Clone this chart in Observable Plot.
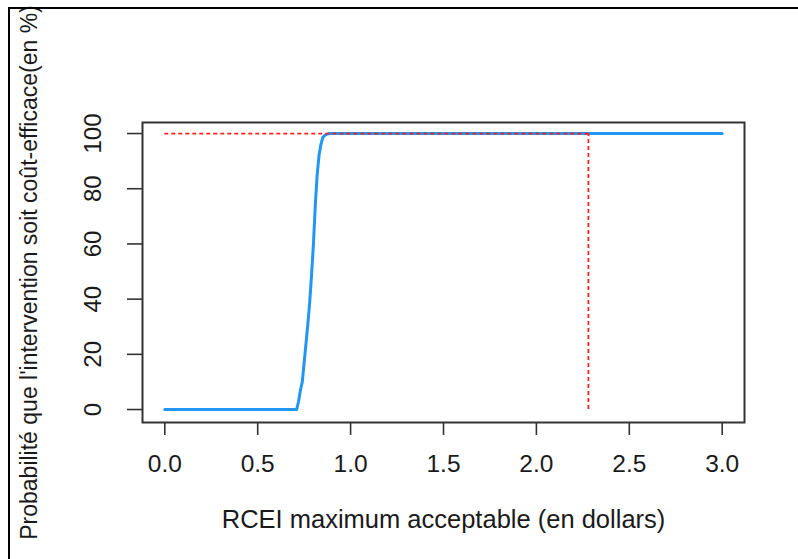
<!DOCTYPE html>
<html>
<head>
<meta charset="utf-8">
<script src="https://cdn.jsdelivr.net/npm/d3@7"></script>
<script src="https://cdn.jsdelivr.net/npm/@observablehq/plot@0.6"></script>
<style>
  html, body { margin: 0; padding: 0; background: #fff; }
  #wrap { position: relative; width: 798px; height: 559px; overflow: hidden; }
  #border { position: absolute; left: 8px; top: 7px; right: 0; bottom: 0;
            border-top: 2px solid #000; border-left: 2px solid #000; pointer-events: none; }
</style>
</head>
<body>
<div id="wrap"><div id="chart"></div><div id="border"></div></div>
<script>
// Acceptability curve (x = maximum acceptable ICER in dollars, y = probability in %)
const rceiX = [0, 0.71, 0.72, 0.73, 0.74, 0.75, 0.76, 0.77, 0.78, 0.79, 0.80,
               0.81, 0.82, 0.83, 0.84, 0.85, 0.86, 0.87, 0.88, 0.89, 3.0];
const probY = [0, 0, 3, 7, 10, 17, 24, 31, 39, 49, 60,
               74, 85, 92, 96, 98.5, 99.3, 99.7, 99.9, 100, 100];
// Reference (threshold) lines
const thresholdX = [2.28];
const thresholdY = [100];
// Ticks and labels
const xTicks = [0, 0.5, 1, 1.5, 2, 2.5, 3];
const yTicks = [0, 20, 40, 60, 80, 100];
const xTitle = "RCEI maximum acceptable (en dollars)";
const yTitle = "Probabilité que l'intervention soit coût-efficace(en %)";

const curve = rceiX.map((x, i) => ({x, y: probY[i]}));

const chart = Plot.plot({
  width: 798,
  height: 559,
  marginLeft: 142,
  marginRight: 54,
  marginTop: 122,
  marginBottom: 137,
  x: {domain: [-0.12, 3.12]},
  y: {domain: [-4.7, 104]},
  style: {fontFamily: "'Liberation Sans', Arial, sans-serif", background: "white", color: "#1a1a1a"},
  marks: [
    Plot.line(curve, {x: "x", y: "y", stroke: "#2196f3", strokeWidth: 3}),
    Plot.ruleY(thresholdY, {x1: 0, x2: thresholdX[0], stroke: "#ff2020", strokeWidth: 1.8, strokeDasharray: "4,3"}),
    Plot.ruleX(thresholdX, {y1: 0, y2: thresholdY[0], stroke: "#ff2020", strokeWidth: 1.8, strokeDasharray: "4,3"}),
    Plot.frame({stroke: "#333", strokeWidth: 2}),
    Plot.axisX(xTicks, {tickSize: 13, tickPadding: 19, tickFormat: d3.format(".1f"),
                        fontSize: 24.5, label: null, stroke: "#333", strokeWidth: 1.6}),
    Plot.axisY(yTicks, {tickSize: 15, tickFormat: () => "", label: null, stroke: "#333", strokeWidth: 1.6}),
    Plot.text(yTicks, {y: d => d, text: d => String(d), frameAnchor: "left", dx: -49, rotate: -90,
                       textAnchor: "middle", lineAnchor: "middle",
                       fontSize: 24, fontFamily: "'Liberation Sans Narrow', 'Arial Narrow', sans-serif", fill: "#1a1a1a"}),
    Plot.text([xTitle], {text: d => d, frameAnchor: "bottom", dy: 87, lineAnchor: "top",
                         fontSize: 25.5, fill: "#1a1a1a"}),
    Plot.text([yTitle], {text: d => d, frameAnchor: "left", dx: -113, rotate: -90,
                         textAnchor: "middle", lineAnchor: "middle",
                         fontSize: 23, fill: "#1a1a1a"})
  ]
});
document.getElementById("chart").append(chart);
</script>
</body>
</html>
